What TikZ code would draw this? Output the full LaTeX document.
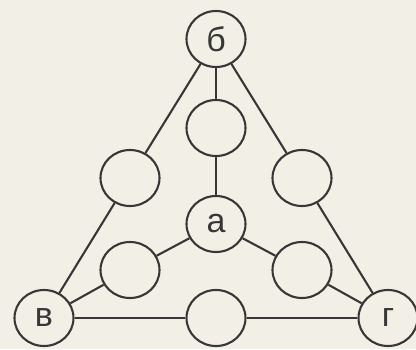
\documentclass[tikz,border=0pt]{standalone}
\usepackage{fontspec}
\newfontfamily\labfont{Liberation Sans}
\usetikzlibrary{shapes.geometric}
\definecolor{paper}{RGB}{242,240,230}
\definecolor{ink}{RGB}{55,55,55}
\tikzset{
  ring/.style={ellipse, draw=ink, fill=paper, line width=2.1pt,
    minimum width=59pt, minimum height=56pt, inner sep=0pt,
    font=\labfont\fontsize{34}{34}\selectfont, text=ink},
  link/.style={draw=ink, line width=2.1pt}
}
\begin{document}
\begin{tikzpicture}[x=1pt,y=-1pt]
\fill[paper] (0,0) rectangle (416,349);
\useasboundingbox (0,0) rectangle (416,349);
\node[ring] (b) at (216,39) {б};
\node[ring] (m1) at (216,128) {};
\node[ring] (a) at (216,224) {а};
\node[ring] (l1) at (130,178) {};
\node[ring] (r1) at (302,178) {};
\node[ring] (l2) at (130,270) {};
\node[ring] (r2) at (302,270) {};
\node[ring] (v) at (44,318) {в};
\node[ring] (g) at (388,318) {г};
\node[ring] (bm) at (216,318) {};
\draw[link] (b) -- (m1);
\draw[link] (m1) -- (a);
\draw[link] (b) -- (l1);
\draw[link] (l1) -- (v);
\draw[link] (b) -- (r1);
\draw[link] (r1) -- (g);
\draw[link] (a) -- (l2);
\draw[link] (l2) -- (v);
\draw[link] (a) -- (r2);
\draw[link] (r2) -- (g);
\draw[link] (v) -- (bm);
\draw[link] (bm) -- (g);
\end{tikzpicture}
\end{document}
